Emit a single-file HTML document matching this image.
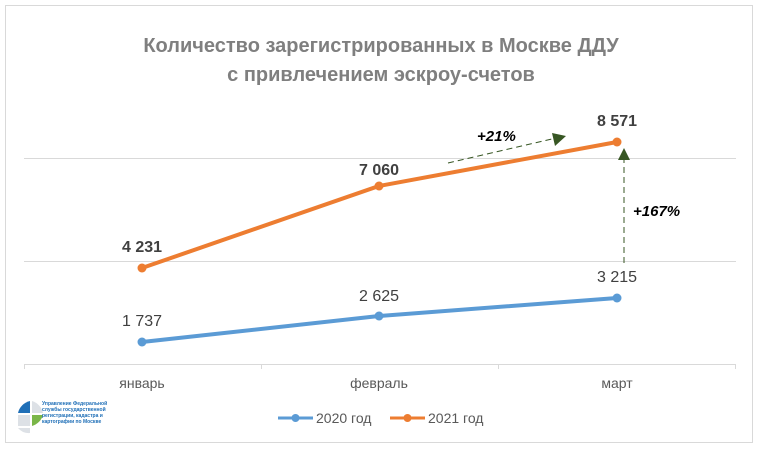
<!DOCTYPE html>
<html><head><meta charset="utf-8"><style>
body{margin:0;background:#fff;}
svg{display:block;font-family:"Liberation Sans","DejaVu Sans",sans-serif;}
</style></head><body>
<svg width="763" height="456" viewBox="0 0 763 456">
<rect x="5.5" y="5.5" width="747" height="437" fill="#fff" stroke="#d9d9d9"/>
<text x="381" y="52" text-anchor="middle" font-size="20" font-weight="bold" fill="#7f7f7f">Количество зарегистрированных в Москве ДДУ</text>
<text x="381" y="81" text-anchor="middle" font-size="20" font-weight="bold" fill="#7f7f7f">с привлечением эскроу-счетов</text>
<g stroke="#d9d9d9" stroke-width="1">
<line x1="24" y1="158.5" x2="736" y2="158.5"/>
<line x1="24" y1="261.5" x2="736" y2="261.5"/>
<line x1="24" y1="364.5" x2="736" y2="364.5"/>
<line x1="24.5" y1="364" x2="24.5" y2="369"/><line x1="261.5" y1="364" x2="261.5" y2="369"/>
<line x1="498.5" y1="364" x2="498.5" y2="369"/><line x1="735.5" y1="364" x2="735.5" y2="369"/>
</g>
<g font-size="14" fill="#595959" text-anchor="middle">
<text x="142" y="388">январь</text><text x="379" y="388">февраль</text><text x="617" y="388">март</text>
</g>
<polyline points="142,342 379,316 617,298" fill="none" stroke="#5b9bd5" stroke-width="4" stroke-linecap="round"/>
<g fill="#5b9bd5"><circle cx="142" cy="342" r="4.5"/><circle cx="379" cy="316" r="4.5"/><circle cx="617" cy="298" r="4.5"/></g>
<polyline points="142,268 379,186 617,142" fill="none" stroke="#ed7d31" stroke-width="4" stroke-linecap="round"/>
<g fill="#ed7d31"><circle cx="142" cy="268" r="4.5"/><circle cx="379" cy="186" r="4.5"/><circle cx="617" cy="142" r="4.5"/></g>
<g font-size="16" fill="#404040" text-anchor="middle">
<text x="142" y="326">1 737</text><text x="379" y="301">2 625</text><text x="617" y="282">3 215</text>
</g>
<g font-size="16" font-weight="bold" fill="#404040" text-anchor="middle">
<text x="142" y="252">4 231</text><text x="379" y="175">7 060</text><text x="617" y="126">8 571</text>
</g>
<g stroke="#375623" stroke-width="1" stroke-dasharray="6,4" fill="none">
<line x1="448" y1="163" x2="552" y2="139"/>
<line x1="624" y1="263" x2="624" y2="160"/>
</g>
<polygon points="566,136 552,133 555,146" fill="#375623"/>
<polygon points="624,148 618,160 630,160" fill="#375623"/>
<g font-size="15" font-weight="bold" font-style="italic" fill="#000">
<text x="477" y="141">+21%</text><text x="633" y="216">+167%</text>
</g>
<g>
<path d="M30,401 A16,16 0 0 0 18,413 L30,413 Z" fill="#1f6fb7"/>
<path d="M32,401 A16,16 0 0 1 43,413 L32,413 Z" fill="#dde1e6"/>
<path d="M32,415 L43,415 A16,16 0 0 1 32,426 Z" fill="#7ab648"/>
<rect x="18" y="415" width="12" height="11" fill="#dde1e6"/>
<path d="M18,428 L30,428 L30,433 A14,14 0 0 1 18,428 Z" fill="#dde1e6"/>
<g font-size="5" font-weight="bold" fill="#1f6fb7">
<text x="42" y="405">Управление Федеральной</text><text x="42" y="411">службы государственной</text>
<text x="42" y="417">регистрации, кадастра и</text><text x="42" y="423">картографии по Москве</text>
</g>
</g>
<line x1="278" y1="418" x2="313" y2="418" stroke="#5b9bd5" stroke-width="3"/><circle cx="295.5" cy="418" r="4" fill="#5b9bd5"/>
<text x="316" y="423" font-size="14" fill="#595959">2020 год</text>
<line x1="390" y1="418" x2="425" y2="418" stroke="#ed7d31" stroke-width="3"/><circle cx="407.5" cy="418" r="4" fill="#ed7d31"/>
<text x="428" y="423" font-size="14" fill="#595959">2021 год</text>
</svg>
</body></html>
